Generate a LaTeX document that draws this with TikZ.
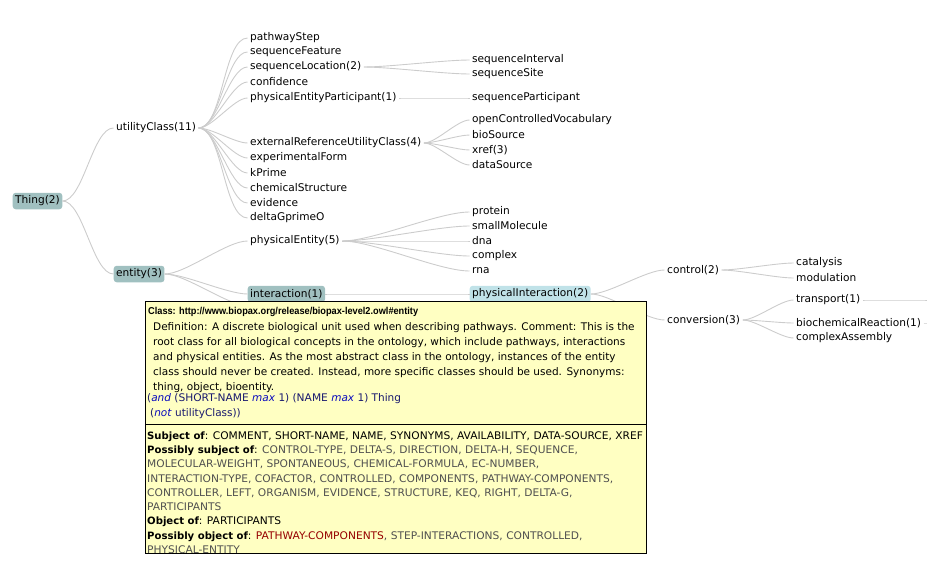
\documentclass[tikz,border=0pt]{standalone}
\usepackage{fontspec}
\setmainfont{DejaVu Sans}
\newfontfamily\capsfont{DejaVu Sans}[FakeStretch=1.015]
\newfontfamily\classfont{Liberation Sans}[FakeStretch=0.92]
\usetikzlibrary{positioning}

\definecolor{hilite}{RGB}{160,192,192}
\definecolor{hilitepi}{RGB}{192,226,232}
\definecolor{link}{RGB}{204,204,204}
\definecolor{tipfill}{RGB}{255,255,194}
\definecolor{expr}{RGB}{25,25,110}
\definecolor{kw}{RGB}{10,10,190}
\definecolor{prop}{RGB}{80,80,80}
\definecolor{hotprop}{RGB}{150,0,0}

\newcommand{\tiplabel}[1]{{\fontsize{10.1}{12}\selectfont\bfseries #1}}

\begin{document}
\begin{tikzpicture}[x=1pt,y=-1pt]
		\useasboundingbox (0,0) rectangle (927,568);
		\begin{scope}[every node/.style={anchor=west,inner xsep=2.5pt,inner ysep=1pt,
				font=\fontsize{10.6}{12}\selectfont},
			hl/.style={fill=hilite,rounded corners=3pt,minimum height=16.5pt},
			hlpi/.style={fill=hilitepi,rounded corners=3pt,minimum height=16.5pt}]
			\node[hl] (thing) at (12.5,201) {Thing(2)};
			\node (util) at (113.5,128) {utilityClass(11)};
			\node[hl] (entity) at (113.5,274) {entity(3)};
			% utility classes
			\node (pstep) at (247.5,38) {pathwayStep};
			\node (sfeat) at (247.5,52) {sequenceFeature};
			\node (sloc) at (247.5,67) {sequenceLocation(2)};
			\node (conf) at (247.5,82) {confidence};
			\node (pepart) at (247.5,98) {physicalEntityParticipant(1)};
			\node (xrefuc) at (247.5,143) {externalReferenceUtilityClass(4)};
			\node (expf) at (247.5,158) {experimentalForm};
			\node (kprime) at (247.5,173) {kPrime};
			\node (chems) at (247.5,188) {chemicalStructure};
			\node (evid) at (247.5,203) {evidence};
			\node (dgp) at (247.5,218) {deltaGprimeO};
			% entities
			\node (pent) at (247.5,241) {physicalEntity(5)};
			\node[hl] (inter) at (247.5,294) {interaction(1)};
			\coordinate (pathway) at (249,306);
			% third level
			\node (sint) at (469.5,60) {sequenceInterval};
			\node (ssite) at (469.5,74) {sequenceSite};
			\node (spart) at (469.5,98) {sequenceParticipant};
			\node (ocv) at (469.5,120) {openControlledVocabulary};
			\node (biosrc) at (469.5,135) {bioSource};
			\node (xref) at (469.5,150) {xref(3)};
			\node (dsrc) at (469.5,165) {dataSource};
			\node (prot) at (469.5,212) {protein};
			\node (smol) at (469.5,226) {smallMolecule};
			\node (dna) at (469.5,241) {dna};
			\node (cplx) at (469.5,256) {complex};
			\node (rna) at (469.5,271) {rna};
			\node[hlpi] (pinter) at (469.5,294) {physicalInteraction(2)};
			% interactions
			\node (ctrl) at (664.5,270) {control(2)};
			\node (conv) at (664.5,320) {conversion(3)};
			\node (catal) at (793.5,263) {catalysis};
			\node (modul) at (793.5,278) {modulation};
			\node (transp) at (793.5,300) {transport(1)};
			\node (biochem) at (793.5,323) {biochemicalReaction(1)};
			\node (cassem) at (793.5,338) {complexAssembly};
			\coordinate (transpout) at (927,300);
			\coordinate (biochemout) at (930,323);
		\end{scope}
		\begin{scope}[every edge/.style={draw=link,line width=0.9pt,out=0,in=180,looseness=0.6}]
			\path (thing) edge (util) edge (entity);
			\path (util) edge (pstep) edge (sfeat) edge (sloc) edge (conf) edge (pepart)
				edge (xrefuc) edge (expf) edge (kprime) edge (chems) edge (evid) edge (dgp);
			\path (entity) edge (pent) edge (inter) edge (pathway);
			\path (sloc) edge (sint) edge (ssite);
			\path (pepart) edge (spart);
			\path (xrefuc) edge (ocv) edge (biosrc) edge (xref) edge (dsrc);
			\path (pent) edge (prot) edge (smol) edge (dna) edge (cplx) edge (rna);
			\path (inter) edge (pinter);
			\path (pinter) edge (ctrl) edge (conv);
			\path (ctrl) edge (catal) edge (modul);
			\path (conv) edge (transp) edge (biochem) edge (cassem);
			\path (transp) edge (transpout);
			\path (biochem) edge (biochemout);
		\end{scope}
		% tooltip
		\draw[fill=tipfill,line width=1pt] (145,301) rectangle (646,553);
		\draw[line width=1pt] (145,424) -- (646,424);
		\begin{scope}[every node/.style={anchor=base west,inner sep=0pt,
				font=\fontsize{10.5}{12}\selectfont}]
			\node (cls) at (148,314) {\classfont\fontsize{10}{12}\selectfont\bfseries Class: http://www.biopax.org/release/biopax-level2.owl\#entity};
			\node (def1) at (153,330) {Definition: A discrete biological unit used when describing pathways. Comment: This is the};
			\node (def2) at (153,345) {root class for all biological concepts in the ontology, which include pathways, interactions};
			\node (def3) at (153,360) {and physical entities. As the most abstract class in the ontology, instances of the entity};
			\node (def4) at (153,375) {class should never be created. Instead, more specific classes should be used. Synonyms:};
			\node (def5) at (153,390) {thing, object, bioentity.};
			\node[text=expr] (expr1) at (147,401) {(\textcolor{kw}{\textit{and}} ({\capsfont SHORT-NAME} \textcolor{kw}{\textit{max}} 1) ({\capsfont NAME} \textcolor{kw}{\textit{max}} 1) Thing};
			\node[text=expr] (expr2) at (150,416) {(\textcolor{kw}{\textit{not}} utilityClass))};
			\node (subj) at (147,439) {\tiplabel{Subject of}: {\capsfont COMMENT, SHORT-NAME, NAME, SYNONYMS, AVAILABILITY, DATA-SOURCE, XREF}};
			\node (psubj1) at (147,453.5) {\tiplabel{Possibly subject of}: \textcolor{prop}{\capsfont CONTROL-TYPE, DELTA-S, DIRECTION, DELTA-H, SEQUENCE,}};
			\node[text=prop] (psubj2) at (147,467.5) {\capsfont MOLECULAR-WEIGHT, SPONTANEOUS, CHEMICAL-FORMULA, EC-NUMBER,};
			\node[text=prop] (psubj3) at (147,482) {\capsfont INTERACTION-TYPE, COFACTOR, CONTROLLED, COMPONENTS, PATHWAY-COMPONENTS,};
			\node[text=prop] (psubj4) at (147,496) {\capsfont CONTROLLER, LEFT, ORGANISM, EVIDENCE, STRUCTURE, KEQ, RIGHT, DELTA-G,};
			\node[text=prop] (psubj5) at (147,510.5) {\capsfont PARTICIPANTS};
			\node (obj) at (147,524.5) {\tiplabel{Object of}: {\capsfont PARTICIPANTS}};
			\node (pobj1) at (147,539) {\tiplabel{Possibly object of}: {\capsfont\textcolor{hotprop}{PATHWAY-COMPONENTS}\textcolor{prop}{, STEP-INTERACTIONS, CONTROLLED,}}};
			\node[text=prop] (pobj2) at (147,553) {\capsfont PHYSICAL-ENTITY};
		\end{scope}
	\end{tikzpicture}
\end{document}
